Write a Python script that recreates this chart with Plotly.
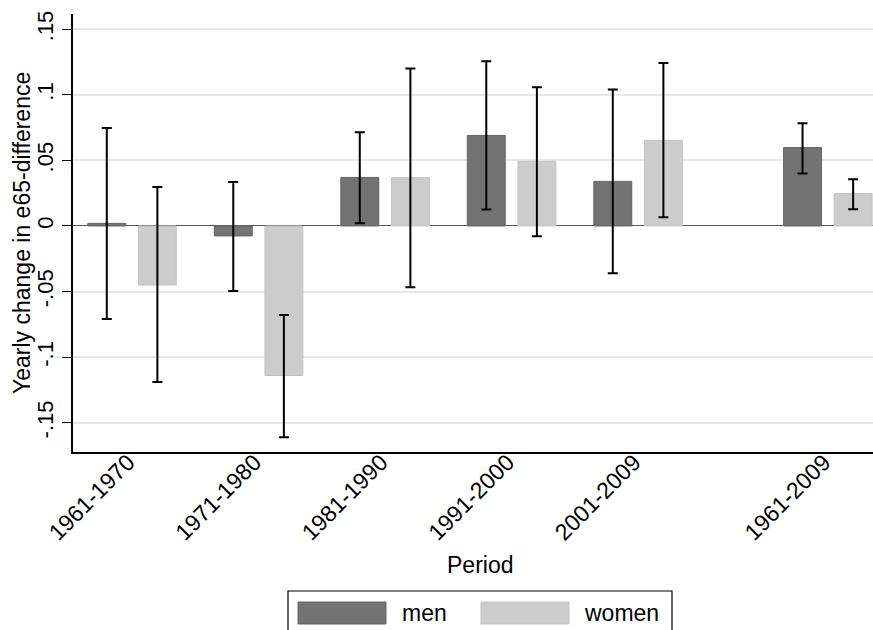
import plotly.graph_objects as go

periods = ["1961-1970", "1971-1980", "1981-1990", "1991-2000", "2001-2009", "1961-2009"]
men = [0.002, -0.0076, 0.037, 0.069, 0.034, 0.0598]
men_lo = [-0.071, -0.0495, 0.002, 0.0125, -0.036, 0.040]
men_hi = [0.0747, 0.0335, 0.0714, 0.1255, 0.104, 0.0784]
women = [-0.045, -0.114, 0.037, 0.0493, 0.0653, 0.0247]
women_lo = [-0.119, -0.161, -0.0468, -0.0079, 0.0066, 0.0127]
women_hi = [0.0297, -0.0678, 0.120, 0.1057, 0.1243, 0.0357]
y_ticks = [-0.15, -0.1, -0.05, 0, 0.05, 0.1, 0.15]
y_tick_text = ["-.15", "-.1", "-.05", "0", ".05", ".1", ".15"]

# layout positions (not data)
group_pos = [0, 1, 2, 3, 4, 5.5]
W, H = 873, 630
L, R, T, B = 73, 0, 14, 178
PW, PH = W - L - R, H - T - B
FONT = "Liberation Sans, Arial, sans-serif"
MEN_C, WOMEN_C = "#737373", "#cccccc"


def xp(px):
    return (px - L) / PW


def yp(py):
    return (H - B - py) / PH


fig = go.Figure()
fig.add_trace(go.Bar(
    x=[p - 0.2 for p in group_pos], y=men, width=0.3, name="men",
    marker=dict(color=MEN_C, line=dict(color="#666666", width=1)),
    error_y=dict(type="data", symmetric=False,
                 array=[h - v for h, v in zip(men_hi, men)],
                 arrayminus=[v - l for v, l in zip(men, men_lo)],
                 color="black", thickness=2, width=5),
    showlegend=False, hoverinfo="skip"))
fig.add_trace(go.Bar(
    x=[p + 0.2 for p in group_pos], y=women, width=0.3, name="women",
    marker=dict(color=WOMEN_C, line=dict(color="#c4c4c4", width=1)),
    error_y=dict(type="data", symmetric=False,
                 array=[h - v for h, v in zip(women_hi, women)],
                 arrayminus=[v - l for v, l in zip(women, women_lo)],
                 color="black", thickness=2, width=5),
    showlegend=False, hoverinfo="skip"))

fig.update_layout(
    width=W, height=H, margin=dict(l=L, r=R, t=T, b=B, pad=0),
    paper_bgcolor="white", plot_bgcolor="white", barmode="overlay",
    font=dict(family=FONT, size=22, color="black"),
    xaxis=dict(range=[-0.467, 5.857], tickvals=group_pos, ticktext=periods,
               tickangle=-45, ticks="", showgrid=False, zeroline=False,
               showline=True, linecolor="black", linewidth=1.5,
               tickfont=dict(size=23), automargin=False,
               ticklabelstandoff=-14, ticklabelshift=-4),
    yaxis=dict(range=[-0.1723, 0.1616], tickvals=y_ticks, ticktext=y_tick_text,
               tickangle=-90, ticks="outside", ticklen=9, tickwidth=1.2,
               tickcolor="black", showgrid=True, gridcolor="#e8e8e8", gridwidth=1.5,
               zeroline=True, zerolinecolor="#555555", zerolinewidth=1,
               showline=True, linecolor="black", linewidth=1.5,
               tickfont=dict(size=22), automargin=False),
)

fig.add_annotation(text="Yearly change in e65-difference", xref="paper", yref="paper",
                   x=xp(22), y=yp(233), textangle=-90, showarrow=False,
                   xanchor="center", yanchor="middle", font=dict(size=23))
fig.add_annotation(text="Period", xref="paper", yref="paper",
                   x=xp(480), y=yp(565), showarrow=False,
                   xanchor="center", yanchor="middle", font=dict(size=23))

# legend box (manual, to match the wide swatches)
fig.add_shape(type="rect", xref="paper", yref="paper",
              x0=xp(288), x1=xp(672), y0=yp(645), y1=yp(591),
              line=dict(color="black", width=1.2), fillcolor="white")
fig.add_shape(type="rect", xref="paper", yref="paper",
              x0=xp(298), x1=xp(386), y0=yp(624), y1=yp(602),
              line=dict(color="#666666", width=1), fillcolor=MEN_C)
fig.add_shape(type="rect", xref="paper", yref="paper",
              x0=xp(481), x1=xp(569), y0=yp(624), y1=yp(602),
              line=dict(color="#c4c4c4", width=1), fillcolor=WOMEN_C)
fig.add_annotation(text="men", xref="paper", yref="paper", x=xp(400), y=yp(613),
                   showarrow=False, xanchor="left", yanchor="middle", font=dict(size=23))
fig.add_annotation(text="women", xref="paper", yref="paper", x=xp(582), y=yp(613),
                   showarrow=False, xanchor="left", yanchor="middle", font=dict(size=23))

fig.write_html("out.html", config={"displayModeBar": False},
               post_script="document.body.style.margin='0';document.body.style.overflow='hidden';")
